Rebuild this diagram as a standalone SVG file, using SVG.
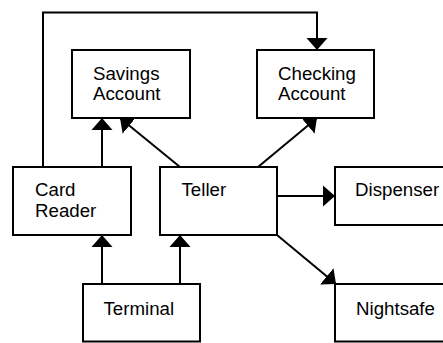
<svg xmlns="http://www.w3.org/2000/svg" width="443" height="343" viewBox="0 0 443 343">
<style>
.box{fill:#fff;stroke:#000;stroke-width:2}
.lbl{font-family:"Liberation Sans",Arial,sans-serif;font-size:18.7px;fill:#000}
.conn{fill:none;stroke:#000;stroke-width:2}
</style>
<defs>
<marker id="ah" markerUnits="userSpaceOnUse" markerWidth="14" markerHeight="24" viewBox="-12 -11 14 22" refX="0" refY="0" orient="auto">
<path d="M-12,-10.5 L0,0 L-12,10.5 Z" fill="#000"/>
</marker>
</defs>
<rect width="443" height="343" fill="#fff"/>
<g id="connectors">
<path class="conn" d="M43,167 V12.5 H317 V50" marker-end="url(#ah)"/>
<path class="conn" d="M102,167 V118" marker-end="url(#ah)"/>
<path class="conn" d="M180,167 L120,118" marker-end="url(#ah)"/>
<path class="conn" d="M258,167 L317,118" marker-end="url(#ah)"/>
<path class="conn" d="M277,196 H335" marker-end="url(#ah)"/>
<path class="conn" d="M277,235 L336,284" marker-end="url(#ah)"/>
<path class="conn" d="M102,284 V235" marker-end="url(#ah)"/>
<path class="conn" d="M180,284 V235" marker-end="url(#ah)"/>
</g>
<g id="savings">
<rect class="box" x="72" y="50" width="118" height="68"/>
<text class="lbl" x="93" y="80">Savings</text>
<text class="lbl" x="93" y="100">Account</text>
</g>
<g id="checking">
<rect class="box" x="257" y="50" width="117" height="68"/>
<text class="lbl" x="278" y="80">Checking</text>
<text class="lbl" x="278" y="100">Account</text>
</g>
<g id="cardreader">
<rect class="box" x="13" y="167" width="118" height="68"/>
<text class="lbl" x="35" y="196">Card</text>
<text class="lbl" x="35" y="216.5">Reader</text>
</g>
<g id="teller">
<rect class="box" x="160" y="167" width="117" height="68"/>
<text class="lbl" x="181.5" y="196">Teller</text>
</g>
<g id="dispenser">
<rect class="box" x="335" y="167" width="120" height="58"/>
<text class="lbl" x="355" y="196">Dispenser</text>
</g>
<g id="terminal">
<rect class="box" x="83" y="284" width="117" height="57.5"/>
<text class="lbl" x="103.5" y="315">Terminal</text>
</g>
<g id="nightsafe">
<rect class="box" x="335" y="284" width="120" height="57.5"/>
<text class="lbl" x="356" y="315">Nightsafe</text>
</g>
</svg>
